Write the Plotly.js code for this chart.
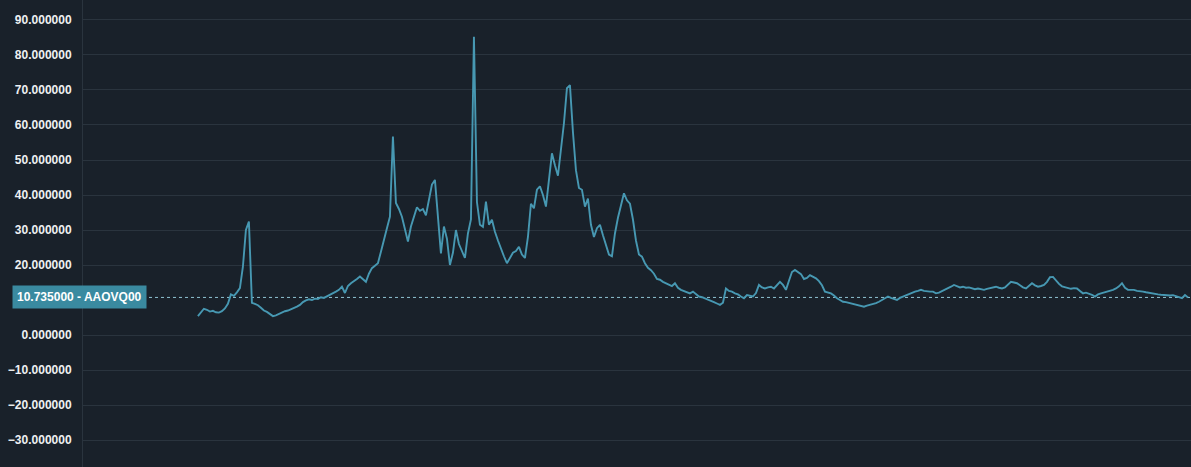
<!DOCTYPE html>
<html>
<head>
<meta charset="utf-8">
<script src="https://cdn.plot.ly/plotly-3.0.1.min.js"></script>
<style>
html,body{margin:0;padding:0;background:#19212a;overflow:hidden;}
#chart{width:1191px;height:467px;}
</style>
</head>
<body>
<div id="chart"></div>
<script>
// Series: AAOVQ00 price, equally spaced observations (oldest -> latest)
var seriesName = "AAOVQ00";
var lastValue = 10.735;
var prices = [
  5.4, 6.6, 7.5, 7.2, 6.7, 6.9, 6.5, 6.4, 6.8, 7.6,
  8.9, 11.6, 11.2, 12.2, 13.4, 19.5, 30.0, 32.4, 9.2, 8.9,
  8.5, 7.8, 7.0, 6.6, 6.0, 5.4, 5.6, 6.0, 6.5, 6.8,
  7.0, 7.3, 7.7, 8.1, 8.6, 9.4, 9.9, 10.2, 10.0, 10.4,
  10.3, 10.8, 10.6, 11.0, 11.5, 12.0, 12.4, 12.9, 13.8, 12.0,
  14.0, 14.8, 15.3, 16.0, 16.7, 16.0, 15.2, 17.5, 19.1, 19.8,
  20.5, 23.8, 27.5, 30.5, 33.8, 56.7, 37.7, 36.0, 33.8, 30.5,
  26.7, 31.0, 33.5, 36.5, 35.5, 36.0, 34.2, 39.0, 43.0, 44.3,
  34.0, 23.3, 31.0, 27.5, 20.0, 23.5, 30.0, 26.0, 24.0, 22.0,
  29.0, 33.0, 85.2, 38.0, 31.5, 30.9, 38.1, 31.5, 32.9, 29.5,
  27.0, 24.5, 22.5, 20.5, 22.0, 23.5, 24.0, 25.2, 23.0, 22.0,
  28.0, 37.5, 36.2, 41.5, 42.5, 40.0, 36.7, 43.5, 51.9, 48.5,
  45.5, 53.0, 60.5, 70.5, 71.4, 58.0, 47.1, 42.0, 41.5, 36.7,
  39.0, 31.5, 28.0, 30.5, 31.5, 28.5, 26.0, 23.0, 22.5, 29.0,
  33.5, 37.5, 40.5, 38.5, 37.5, 33.0, 27.0, 23.0, 22.4, 20.5,
  19.2, 18.5, 17.5, 16.0, 15.8, 15.2, 14.8, 14.2, 14.0, 14.8,
  13.5, 12.9, 12.6, 12.4, 11.9, 12.4, 11.8, 11.0, 10.8, 10.5,
  10.2, 9.9, 9.4, 9.0, 8.6, 9.2, 13.3, 12.6, 12.4, 11.9,
  11.6, 11.0, 10.5, 11.4, 11.2, 11.0, 12.0, 14.3, 13.6, 13.3,
  13.6, 13.8, 13.3, 14.3, 15.2, 14.3, 12.9, 15.5, 18.0, 18.6,
  17.9, 17.4, 16.0, 16.3, 17.1, 16.6, 16.2, 15.4, 14.2, 12.4,
  12.1, 11.9, 11.3, 10.5, 10.0, 9.5, 9.4, 9.2, 9.0, 8.9,
  8.5, 8.3, 8.1, 8.4, 8.6, 8.8, 9.1, 9.5, 10.0, 10.4,
  11.0, 10.6, 10.3, 10.0, 10.6, 11.0, 11.4, 11.8, 12.0, 12.4,
  12.6, 12.9, 12.6, 12.4, 12.4, 12.4, 11.9, 12.1, 12.5, 12.9,
  13.2, 13.8, 14.3, 14.0, 13.6, 13.8, 13.5, 13.6, 13.3, 13.1,
  13.3, 13.0, 12.9, 13.2, 13.4, 13.6, 13.8, 13.5, 13.3, 13.6,
  14.4, 15.2, 15.0, 14.8, 14.2, 13.6, 13.3, 14.2, 14.8, 14.2,
  13.8, 14.0, 14.3, 15.2, 16.5, 16.6, 15.5, 14.6, 13.9, 13.7,
  13.4, 13.2, 13.4, 13.3, 12.6, 11.9, 12.1, 11.9, 11.5, 11.0,
  11.6, 11.9, 12.1, 12.4, 12.6, 12.9, 13.3, 13.9, 14.8, 13.5,
  12.9, 13.0, 12.9, 12.6, 12.6, 12.4, 12.2, 12.0, 11.9, 11.8,
  11.6, 11.5, 11.4, 11.5, 11.3, 11.4, 11.1, 10.8, 10.5, 11.4, 10.735
];
// Tick labels shown on the y axis (10 is covered by the last-value tag)
var yTicks = [-30, -20, -10, 0, 20, 30, 40, 50, 60, 70, 80, 90];

var n = prices.length;
var trace = {
  type: 'scatter',
  mode: 'lines',
  y: prices,
  x0: 0,
  dx: 1,
  line: {color: '#4798b2', width: 1.9},
  hoverinfo: 'y'
};

var layout = {
  width: 1191,
  height: 467,
  margin: {l: 83, r: 0, t: 0, b: 0, pad: 0},
  paper_bgcolor: '#19212a',
  plot_bgcolor: '#19212a',
  showlegend: false,
  xaxis: {
    range: [-38.3, n - 1 + 1],
    showgrid: false,
    zeroline: false,
    showticklabels: false,
    showline: false,
    fixedrange: true
  },
  yaxis: {
    range: [-37.71, 95.71],
    tickvals: yTicks,
    tickformat: '.6f',
    showgrid: true,
    gridcolor: '#2a343e',
    gridwidth: 1,
    zeroline: false,
    showline: true,
    linecolor: '#2a343e',
    linewidth: 1,
    ticks: 'outside',
    ticklen: 8,
    tickcolor: 'rgba(0,0,0,0)',
    tickfont: {family: 'Liberation Sans, Arial, sans-serif', size: 12, color: '#eef0f2', weight: 600},
    fixedrange: true
  },
  shapes: [{
    type: 'line',
    xref: 'paper', x0: 0, x1: 1,
    yref: 'y', y0: lastValue, y1: lastValue,
    line: {color: '#8fc3d2', width: 1, dash: 'dot'},
    layer: 'below'
  }],
  annotations: [{
    xref: 'paper', x: -0.0641, xanchor: 'left',
    yref: 'y', y: lastValue, yanchor: 'middle',
    text: lastValue.toFixed(6) + ' - ' + seriesName,
    showarrow: false,
    bgcolor: '#3a8aa0',
    borderpad: 4,
    font: {family: 'Liberation Sans, Arial, sans-serif', size: 12, color: '#ffffff', weight: 600}
  }]
};

Plotly.newPlot('chart', [trace], layout, {displayModeBar: false, staticPlot: true});
</script>
</body>
</html>
